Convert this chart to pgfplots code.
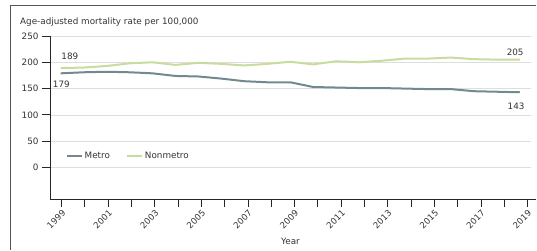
\documentclass[border=0pt]{standalone}
\usepackage{pgfplots}
\pgfplotsset{compat=1.18}
\usepackage{fontspec}
\setmainfont{DejaVu Sans}
\definecolor{metro}{HTML}{72898D}
\definecolor{nonmetro}{HTML}{C8DCA0}
\definecolor{txt}{HTML}{333333}
\definecolor{gridc}{HTML}{DEDEDE}
\definecolor{framec}{HTML}{555555}
\begin{document}
\begin{tikzpicture}
\path[use as bounding box] (0pt,0pt) rectangle (537pt,251pt);
\fill[framec] (10pt,1pt) rectangle (11.2pt,246pt);
\fill[framec] (10pt,244.8pt) rectangle (536pt,246pt);
\node[anchor=base west, text=txt, font=\fontsize{8.8}{10}\selectfont, inner sep=0pt] at (20pt,226pt) {Age-adjusted mortality rate per 100,000};
\begin{axis}[
  at={(50pt,52pt)}, anchor=south west,
  scale only axis, width=481pt, height=163pt,
  xmin=-0.466, xmax=20.49, ymin=-60, ymax=250,
  axis x line=bottom, axis y line=left,
  axis line style={line width=0.9pt, color=black!85, -},
  x axis line style={shorten >=-5pt},
  tick align=outside, major tick length=8pt,
  tick style={line width=0.9pt, color=black!85},
  ytick={0,50,100,150,200,250},
  ymajorgrids, grid style={gridc, line width=0.6pt},
  xtick={0.04,1.055,2.07,3.085,4.10,5.115,6.13,7.145,8.16,9.175,10.19,11.205,12.22,13.235,14.25,15.265,16.28,17.295,18.31,19.325,20.34},
  xticklabels={1999,,2001,,2003,,2005,,2007,,2009,,2011,,2013,,2015,,2017,,2019},
  /pgf/number format/assume math mode=true,
  yticklabel style={font=\fontsize{8.8}{10}\selectfont, text=txt},
  xticklabel style={font=\fontsize{8.6}{9}\selectfont, text=txt, rotate=45, anchor=north east, inner sep=1.5pt},
  xlabel={Year},
  xlabel style={at={(axis description cs:0.5,0)}, anchor=center, yshift=-42pt, font=\fontsize{8.8}{10}\selectfont, text=txt},
  legend style={at={(axis cs:0.08,22)}, anchor=west, draw=none, fill=none, font=\fontsize{8.8}{10}\selectfont, text=txt, legend columns=2, /tikz/every even column/.append style={column sep=14pt}},
  legend image code/.code={\draw[#1] (0pt,0pt) -- (15pt,0pt);},
]
\addplot[metro, line width=2pt] coordinates {
(0,179)(1,181)(2,182)(3,181)(4,179)(5,174)(6,173)(7,169)(8,164)(9,162)(10,162)(11,153)(12,152)(13,151)(14,151)(15,150)(16,149)(17,149)(18,145)(19,144)(20,143)};
\addlegendentry{Metro}
\addplot[nonmetro, line width=2pt] coordinates {
(0,189)(1,190)(2,193)(3,198)(4,200)(5,195)(6,199)(7,197)(8,194)(9,197)(10,201)(11,196)(12,202)(13,200)(14,203)(15,207)(16,207)(17,209)(18,206)(19,205)(20,205)};
\addlegendentry{Nonmetro}
\node[text=txt, font=\fontsize{8.8}{10}\selectfont] at (axis cs:0.4,212) {189};
\node[text=txt, font=\fontsize{8.8}{10}\selectfont] at (axis cs:0.03,157.7) {179};
\node[text=txt, font=\fontsize{8.8}{10}\selectfont] at (axis cs:19.8,218.7) {205};
\node[text=txt, font=\fontsize{8.8}{10}\selectfont] at (axis cs:19.84,116.8) {143};
\end{axis}
\end{tikzpicture}
\end{document}
